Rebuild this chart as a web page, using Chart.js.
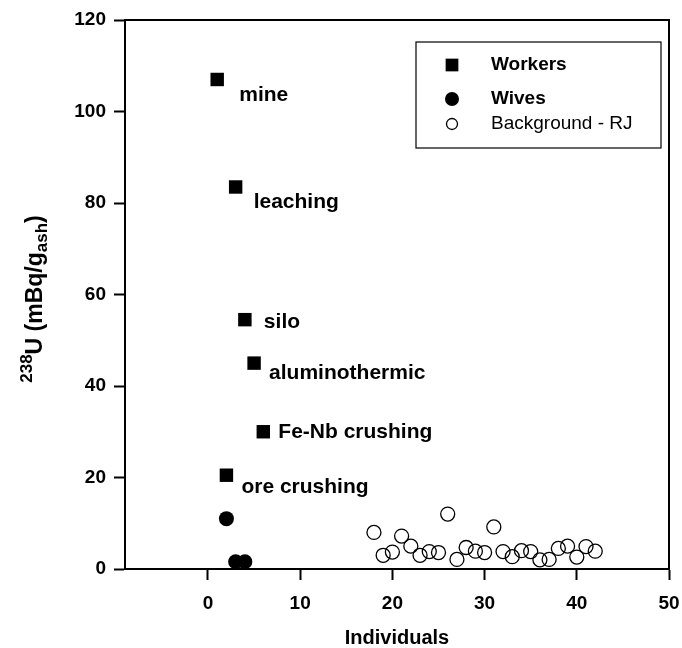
<!DOCTYPE html>
<html>
<head>
<meta charset="utf-8">
<title>238U in individuals</title>
<script src="https://cdn.jsdelivr.net/npm/chart.js@4.4.1/dist/chart.umd.min.js"></script>
<style>
  html, body { margin: 0; padding: 0; background: #fff; }
  #wrap { width: 682px; height: 648px; }
</style>
</head>
<body>
<div id="wrap"><canvas id="uChart" width="682" height="648"></canvas></div>
<script>
// ---- data ----
const workerX      = [1, 3, 4, 5, 6, 2];
const workerY      = [107, 83.5, 54.5, 45, 30, 20.5];
const workerLabels = ['mine', 'leaching', 'silo', 'aluminothermic', 'Fe-Nb crushing', 'ore crushing'];

const wivesX = [2, 3, 4];
const wivesY = [11, 1.6, 1.6];

const bgX = [18, 19, 20, 21, 22, 23, 24, 25, 26, 27, 28, 29, 30, 31, 32, 33, 34, 35, 36, 37, 38, 39, 40, 41, 42];
const bgY = [8, 3, 3.7, 7.2, 5, 3, 3.8, 3.6, 12, 2.1, 4.7, 3.9, 3.6, 9.2, 3.8, 2.7, 4, 3.8, 2, 2.1, 4.5, 5, 2.6, 4.9, 3.9];

const xTicks = [0, 10, 20, 30, 40, 50];
const yTicks = [0, 20, 40, 60, 80, 100, 120];

// ---- layout / style ----
const FONT = '"Liberation Sans", Arial, sans-serif';
const labelOffsets = [[22, 16], [18, 15], [19, 3], [15, 10], [15, 0], [15, 12]]; // px from the marker
const legendBox  = { left: 416, top: 42, right: 661, bottom: 148 };
const legendRows = [65, 99, 124];
const legendWeight = ['bold', 'bold', 'normal'];

const toPts = (xs, ys) => xs.map((x, i) => ({ x, y: ys[i] }));

// frame (top + right), marker labels, legend, y title
const extrasPlugin = {
  id: 'extras',
  beforeDatasetsDraw(chart) {
    const { ctx, chartArea: a } = chart;
    ctx.save();
    ctx.strokeStyle = '#000';
    ctx.lineWidth = 2;
    ctx.beginPath();
    ctx.moveTo(a.left, a.top);
    ctx.lineTo(a.right, a.top);
    ctx.lineTo(a.right, a.bottom);
    ctx.stroke();
    ctx.restore();
  },
  afterDatasetsDraw(chart) {
    const ctx = chart.ctx;
    ctx.save();
    ctx.fillStyle = '#000';
    ctx.font = 'bold 21px ' + FONT;
    ctx.textAlign = 'left';
    ctx.textBaseline = 'middle';
    const meta = chart.getDatasetMeta(0);
    workerLabels.forEach((txt, i) => {
      const p = meta.data[i];
      ctx.fillText(txt, p.x + labelOffsets[i][0], p.y + labelOffsets[i][1]);
    });

    // legend
    ctx.strokeStyle = '#000';
    ctx.lineWidth = 1.2;
    ctx.strokeRect(legendBox.left, legendBox.top, legendBox.right - legendBox.left, legendBox.bottom - legendBox.top);
    chart.data.datasets.forEach((ds, i) => {
      const y = legendRows[i];
      ctx.fillStyle = ds.backgroundColor;
      ctx.strokeStyle = ds.borderColor;
      ctx.lineWidth = ds.borderWidth;
      Chart.helpers.drawPoint(ctx, {
        pointStyle: ds.pointStyle,
        radius: ds.pointStyle === 'rect' ? 9 : (i === 2 ? 5.5 : 7),
        borderWidth: ds.borderWidth
      }, 452, y);
      ctx.fillStyle = '#000';
      ctx.font = legendWeight[i] + ' 19px ' + FONT;
      ctx.fillText(ds.label, 491, y);
    });

    // y axis title: 238U (mBq/g_ash)
    const parts = [
      { t: '238', size: 17, dy: -10 },
      { t: 'U (mBq/g', size: 23, dy: 0 },
      { t: 'ash', size: 17, dy: 5 },
      { t: ')', size: 23, dy: 0 }
    ];
    let total = 0;
    parts.forEach(p => { ctx.font = 'bold ' + p.size + 'px ' + FONT; p.w = ctx.measureText(p.t).width; total += p.w; });
    ctx.translate(42, 299);
    ctx.rotate(-Math.PI / 2);
    ctx.textBaseline = 'alphabetic';
    let x = -total / 2;
    parts.forEach(p => {
      ctx.font = 'bold ' + p.size + 'px ' + FONT;
      ctx.fillText(p.t, x, p.dy);
      x += p.w;
    });
    ctx.restore();
  }
};

const tickFont = { family: FONT, size: 19, weight: 'bold' };

new Chart(document.getElementById('uChart'), {
  type: 'scatter',
  data: {
    datasets: [
      {
        label: 'Workers',
        data: toPts(workerX, workerY),
        pointStyle: 'rect',
        pointRadius: 9.5,
        backgroundColor: '#000',
        borderColor: '#000',
        borderWidth: 0,
        clip: false
      },
      {
        label: 'Wives',
        data: toPts(wivesX, wivesY),
        pointStyle: 'circle',
        pointRadius: 7.5,
        backgroundColor: '#000',
        borderColor: '#000',
        borderWidth: 0,
        clip: false
      },
      {
        label: 'Background - RJ',
        data: toPts(bgX, bgY),
        pointStyle: 'circle',
        pointRadius: 7,
        backgroundColor: 'rgba(0,0,0,0)',
        borderColor: '#000',
        borderWidth: 1.3,
        clip: false
      }
    ]
  },
  options: {
    responsive: false,
    animation: false,
    devicePixelRatio: 1,
    layout: { padding: { left: 0, top: 20, right: 13, bottom: 0 } },
    plugins: {
      legend: { display: false },
      tooltip: { enabled: false }
    },
    scales: {
      x: {
        type: 'linear',
        min: -9,
        max: 50,
        afterBuildTicks: s => { s.ticks = xTicks.map(v => ({ value: v })); },
        afterFit: s => { s.height = 79; s.paddingLeft = 0; s.paddingRight = 0; },
        ticks: { color: '#000', font: tickFont, padding: 12, maxRotation: 0, autoSkip: false },
        grid: { drawOnChartArea: false, tickLength: 11, tickWidth: 2, tickColor: '#000' },
        border: { color: '#000', width: 2 },
        title: {
          display: true,
          text: 'Individuals',
          color: '#000',
          font: { family: FONT, size: 20, weight: 'bold', lineHeight: 1 },
          padding: { top: 0, bottom: 0 }
        }
      },
      y: {
        min: 0,
        max: 120,
        afterBuildTicks: s => { s.ticks = yTicks.map(v => ({ value: v })); },
        afterFit: s => { s.width = 125; s.paddingTop = 0; s.paddingBottom = 0; },
        ticks: { color: '#000', font: tickFont, padding: 8 },
        grid: { drawOnChartArea: false, tickLength: 11, tickWidth: 2, tickColor: '#000' },
        border: { color: '#000', width: 2 }
      }
    }
  },
  plugins: [extrasPlugin]
});
</script>
</body>
</html>
